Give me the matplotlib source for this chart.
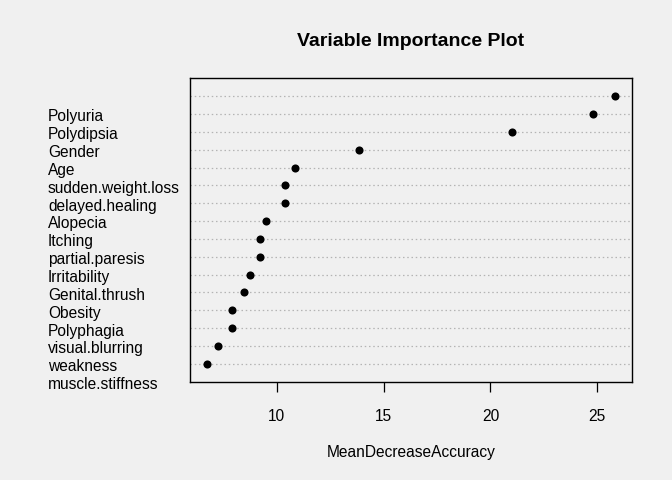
import matplotlib
matplotlib.use("Agg")
import matplotlib.pyplot as plt
from matplotlib.transforms import blended_transform_factory

variables = ["Polyuria", "Polydipsia", "Gender", "Age", "sudden.weight.loss",
             "delayed.healing", "Alopecia", "Itching", "partial.paresis",
             "Irritability", "Genital.thrush", "Obesity", "Polyphagia",
             "visual.blurring", "weakness", "muscle.stiffness"]
importance = [25.85, 24.82, 21.02, 13.85, 10.87, 10.36, 10.36, 9.51, 9.23,
              9.23, 8.75, 8.44, 7.92, 7.92, 7.24, 6.71]
xticks = [10, 15, 20, 25]

plt.rcParams['font.family'] = ['Liberation Sans', 'DejaVu Sans']
bg = '#F0F0F0'
fig = plt.figure(figsize=(6.72, 4.8), dpi=100, facecolor=bg)
W, H = 672, 480
left, right, top, bottom = 190.3, 631.7, 78.3, 381.7
ax = fig.add_axes([left / W, 1 - bottom / H, (right - left) / W, (bottom - top) / H])
ax.set_facecolor(bg)

n = len(variables)
ypos = list(range(n, 0, -1))
for y in ypos:
    ax.axhline(y, color='#B4B4B4', linestyle=(0, (1.2, 2.2)), linewidth=0.9, zorder=1)
ax.scatter(importance, ypos, s=34, color='black', zorder=3, linewidths=0)

lo, hi = min(importance), max(importance)
pad = 0.04 * (hi - lo)
ax.set_xlim(lo - pad, hi + pad)
ax.set_ylim(0, n + 1)
ax.set_yticks([])
ax.set_xticks(xticks)
ax.set_xticklabels([str(t) for t in xticks])
ax.tick_params(axis='x', length=7, width=0.9, pad=13, labelsize=11.2, colors='black')
for s in ax.spines.values():
    s.set_linewidth(1.0)

# labels (offset one row below their dots, as in the reference)
tr = blended_transform_factory(fig.transFigure, ax.transData)
for name, y in zip(variables, ypos):
    fig.text(48 / W, y - 1.16, name, fontsize=11.2, ha='left', va='center', transform=tr)

fig.text((left + right) / 2 / W, 1 - 41 / H, "Variable Importance Plot",
         fontsize=14, fontweight='bold', ha='center', va='center')
fig.text((left + right) / 2 / W, 1 - 452 / H, "MeanDecreaseAccuracy",
         fontsize=11.2, ha='center', va='center')

fig.savefig("out.png", dpi=100, facecolor=bg)
